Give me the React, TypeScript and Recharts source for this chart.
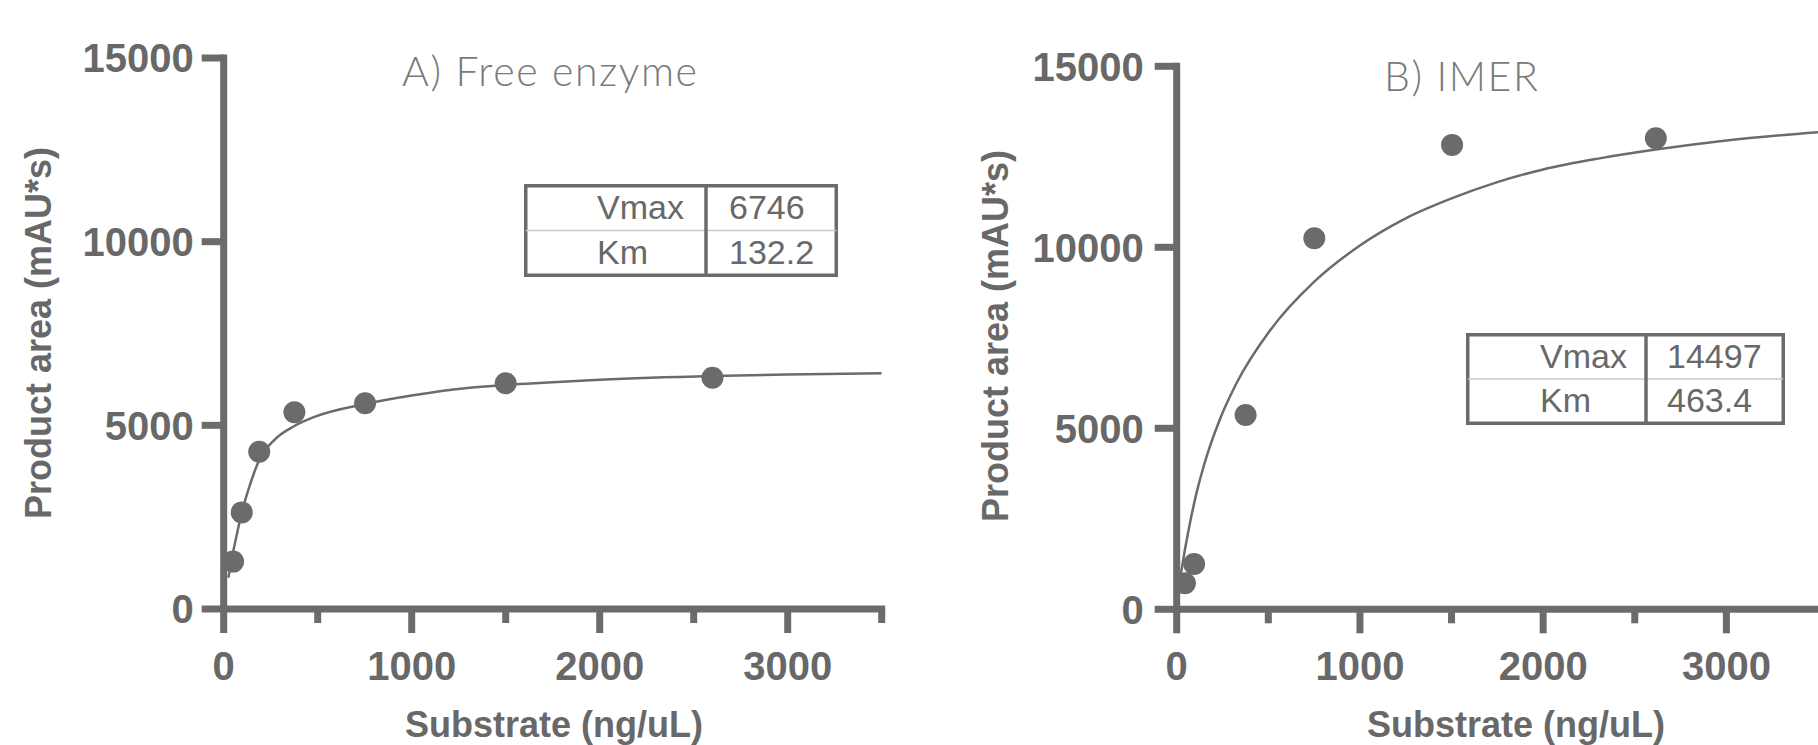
import {
  ComposedChart,
  Line,
  Scatter,
  XAxis,
  YAxis,
} from "recharts";

const pointsA = [
  { x: 50, y: 1290 },
  { x: 96, y: 2630 },
  { x: 189, y: 4280 },
  { x: 376, y: 5355 },
  { x: 752, y: 5600 },
  { x: 1500, y: 6144 },
  { x: 2600, y: 6297 },
];

const pointsB = [
  { x: 45, y: 718 },
  { x: 95, y: 1251 },
  { x: 376, y: 5367 },
  { x: 751, y: 10249 },
  { x: 1503, y: 12829 },
  { x: 2615, y: 13011 },
];

// fitted curves, sampled off the figure
const curveA = [
  { x: 25, y: 850 },
  { x: 50, y: 1550 },
  { x: 75, y: 2150 },
  { x: 96, y: 2630 },
  { x: 131, y: 3240 },
  { x: 189, y: 4056 },
  { x: 273, y: 4620 },
  { x: 376, y: 4982 },
  { x: 486, y: 5236 },
  { x: 752, y: 5581 },
  { x: 1017, y: 5826 },
  { x: 1283, y: 6010 },
  { x: 1500, y: 6100 },
  { x: 1700, y: 6160 },
  { x: 2000, y: 6240 },
  { x: 2600, y: 6343 },
  { x: 3000, y: 6385 },
  { x: 3500, y: 6416 },
];

const curveB = [
  { x: 20, y: 900 },
  { x: 45, y: 1650 },
  { x: 73, y: 2400 },
  { x: 110, y: 3250 },
  { x: 150, y: 4000 },
  { x: 236, y: 5250 },
  { x: 327, y: 6250 },
  { x: 509, y: 7700 },
  { x: 751, y: 9050 },
  { x: 1000, y: 10050 },
  { x: 1250, y: 10800 },
  { x: 1500, y: 11350 },
  { x: 1750, y: 11800 },
  { x: 2000, y: 12150 },
  { x: 2300, y: 12450 },
  { x: 2615, y: 12700 },
  { x: 3000, y: 12950 },
  { x: 3500, y: 13180 },
];

const yTicks = [0, 5000, 10000, 15000];
const xTicksA = [0, 500, 1000, 1500, 2000, 2500, 3000, 3500];
const xTicksB = [0, 500, 1000, 1500, 2000, 2500, 3000];

const tableA = [
  ["Vmax", "6746"],
  ["Km", "132.2"],
];
const tableB = [
  ["Vmax", "14497"],
  ["Km", "463.4"],
];

const GRAY = "#6b6b6b";
const TEXT = "#686868";
const SANS = "'Liberation Sans', Arial, sans-serif";

function XTick(props: any) {
  const { x, y, payload } = props;
  const major = payload.value % 1000 === 0;
  return (
    <g>
      <line x1={x} y1={y} x2={x} y2={y + (major ? 24 : 14)} stroke={GRAY} strokeWidth={7} />
      {major && (
        <text x={x} y={y + 71} textAnchor="middle" fill={TEXT} fontSize={40} fontWeight={700} fontFamily={SANS}>
          {payload.value}
        </text>
      )}
    </g>
  );
}

const dot = (props: any) => <circle cx={props.cx} cy={props.cy} r={11} fill={GRAY} />;

function Panel({
  points,
  curve,
  xTicks,
  left,
  top,
  right,
  bottom,
  tickMargin,
}: {
  points: { x: number; y: number }[];
  curve: { x: number; y: number }[];
  xTicks: number[];
  left: number;
  top: number;
  right: number;
  bottom: number;
  tickMargin: number;
}) {
  return (
    <ComposedChart width={909} height={745} margin={{ top, right, left: 0, bottom: 0 }}>
      <XAxis
        type="number"
        dataKey="x"
        domain={[0, 3500]}
        ticks={xTicks}
        allowDataOverflow
        height={bottom}
        tickSize={0}
        tickMargin={0}
        tickLine={false}
        tick={<XTick />}
        axisLine={{ stroke: GRAY, strokeWidth: 7, strokeLinecap: "square" }}
        interval={0}
      />
      <YAxis
        type="number"
        dataKey="y"
        domain={[0, 15000]}
        ticks={yTicks}
        width={left}
        tickSize={22}
        tickMargin={tickMargin}
        tickLine={{ stroke: GRAY, strokeWidth: 7 }}
        axisLine={{ stroke: GRAY, strokeWidth: 7, strokeLinecap: "square" }}
        tick={{ fill: TEXT, fontSize: 40, fontWeight: 700, fontFamily: SANS }}
        interval={0}
      />
      <Line
        data={curve}
        dataKey="y"
        type="monotone"
        stroke={GRAY}
        strokeWidth={2.5}
        dot={false}
        isAnimationActive={false}
      />
      <Scatter data={points} dataKey="y" shape={dot} isAnimationActive={false} />
    </ComposedChart>
  );
}

function ParamTable({
  rows,
  x,
  y,
  w,
  h,
  split,
  labelX,
  valueX,
}: {
  rows: string[][];
  x: number;
  y: number;
  w: number;
  h: number;
  split: number;
  labelX: number;
  valueX: number;
}) {
  const rowH = h / 2;
  return (
    <g fontFamily={SANS} fontSize={34} fill={TEXT}>
      <rect x={x} y={y} width={w} height={h} fill="#fff" stroke={GRAY} strokeWidth={3.5} />
      <line x1={x} y1={y + rowH} x2={x + w} y2={y + rowH} stroke="#c9c9c9" strokeWidth={1.5} />
      <line x1={split} y1={y} x2={split} y2={y + h} stroke={GRAY} strokeWidth={3.5} />
      {rows.map((r, i) => (
        <g key={r[0]}>
          <text x={labelX} y={y + rowH * i + 33}>{r[0]}</text>
          <text x={valueX} y={y + rowH * i + 33}>{r[1]}</text>
        </g>
      ))}
    </g>
  );
}

export default function App() {
  return (
    <div
      style={{
        position: "fixed",
        left: 0,
        top: 0,
        width: 1818,
        height: 745,
        overflow: "hidden",
        background: "#fff",
      }}
    >
      <div style={{ position: "absolute", left: 0, top: 0 }}>
        <Panel
          points={pointsA}
          curve={curveA}
          xTicks={xTicksA}
          left={223.7}
          top={58}
          right={27.3}
          bottom={136}
          tickMargin={8}
        />
      </div>
      <div style={{ position: "absolute", left: 909, top: 0 }}>
        <Panel
          points={pointsB}
          curve={curveB}
          xTicks={xTicksB}
          left={267.7}
          top={66.3}
          right={0}
          bottom={135.7}
          tickMargin={11}
        />
      </div>
      <svg
        width={1818}
        height={745}
        style={{ position: "absolute", left: 0, top: 0, pointerEvents: "none" }}
      >
        <text x={402} y={86} fill="#7a7a7a" fontSize={41} fontWeight={300} letterSpacing={1.6} fontFamily="Lato, sans-serif">
          A) Free enzyme
        </text>
        <text x={1384} y={91} fill="#7a7a7a" fontSize={41} fontWeight={300} letterSpacing={1.6} fontFamily="Lato, sans-serif">
          B) IMER
        </text>
        <text
          transform="translate(51 333) rotate(-90)"
          textAnchor="middle"
          fill={TEXT}
          fontSize={36}
          fontWeight={700}
          fontFamily={SANS}
        >
          Product area (mAU*s)
        </text>
        <text
          transform="translate(1008 336) rotate(-90)"
          textAnchor="middle"
          fill={TEXT}
          fontSize={36}
          fontWeight={700}
          fontFamily={SANS}
        >
          Product area (mAU*s)
        </text>
        <text x={554} y={737} textAnchor="middle" fill={TEXT} fontSize={36} fontWeight={700} fontFamily={SANS}>
          Substrate (ng/uL)
        </text>
        <text x={1516} y={737} textAnchor="middle" fill={TEXT} fontSize={36} fontWeight={700} fontFamily={SANS}>
          Substrate (ng/uL)
        </text>
        <ParamTable rows={tableA} x={525.75} y={185.75} w={310.5} h={89.5} split={706} labelX={597} valueX={729} />
        <ParamTable rows={tableB} x={1467.75} y={334.75} w={315.5} h={88.5} split={1646} labelX={1540} valueX={1667} />
      </svg>
    </div>
  );
}
